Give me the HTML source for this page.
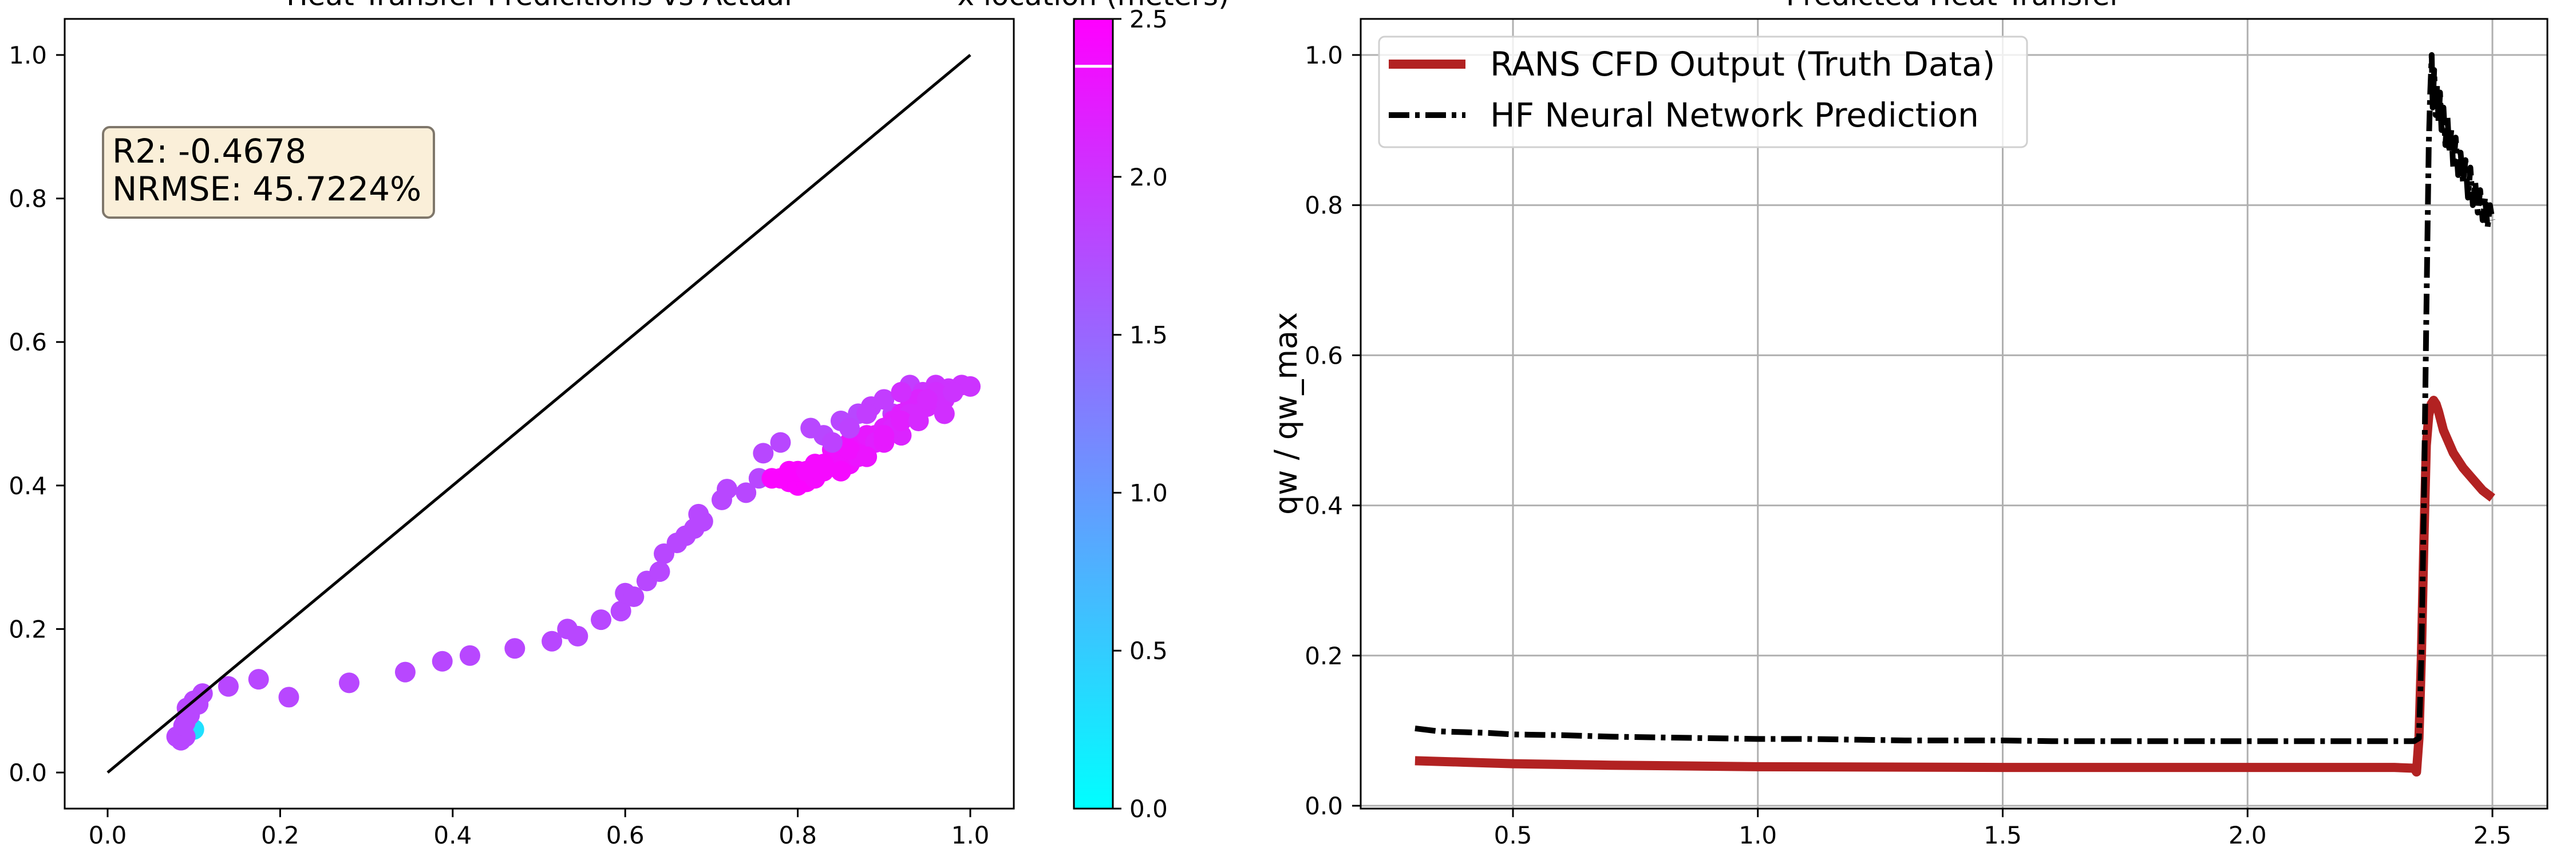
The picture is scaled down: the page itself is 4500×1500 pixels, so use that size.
<!DOCTYPE html>
<html><head><meta charset="utf-8"><style>
html,body{margin:0;padding:0;background:#fff}
svg{display:block;font-family:"DejaVu Sans","Liberation Sans",sans-serif}
</style></head><body>
<svg id="fig" width="4500" height="1500" viewBox="0 0 4500 1500" xmlns="http://www.w3.org/2000/svg">
<rect width="4500" height="1500" fill="#fff"/>
<g id="left"></g>
<g id="cbar"></g>
<g id="right"></g>
</svg>
<script>
// ---- scatter data ----
const actual = [0.10,0.09,0.085,0.08,0.09,0.095,0.092,0.088,0.1,0.105,0.11,0.14,0.175,0.21,0.28,0.345,0.388,0.42,0.472,0.515,0.533,0.545,0.572,0.595,0.6,0.61,0.625,0.64,0.645,0.66,0.67,0.68,0.685,0.69,0.712,0.718,0.74,0.755,0.76,0.78,0.815,0.83,0.85,0.87,0.885,0.9,0.91,0.93,0.945,0.96,0.975,0.99,1.0,0.78,0.79,0.80,0.81,0.82,0.83,0.84,0.85,0.86,0.87,0.88,0.89,0.90,0.91,0.92,0.93,0.94,0.95,0.96,0.80,0.82,0.84,0.86,0.88,0.90,0.92,0.94,0.96,0.97,0.85,0.87,0.89,0.91,0.93,0.77,0.79,0.81,0.83,0.86,0.88,0.90,0.92,0.94,0.95,0.97,0.98,0.84,0.86,0.88,0.90,0.92];
const predicted = [0.06,0.05,0.045,0.05,0.07,0.08,0.09,0.065,0.1,0.095,0.11,0.12,0.13,0.105,0.125,0.14,0.155,0.163,0.173,0.183,0.2,0.19,0.213,0.225,0.25,0.245,0.267,0.28,0.305,0.32,0.33,0.34,0.36,0.35,0.38,0.395,0.39,0.41,0.445,0.46,0.48,0.47,0.49,0.5,0.51,0.52,0.50,0.54,0.53,0.54,0.535,0.54,0.538,0.41,0.405,0.40,0.405,0.41,0.42,0.43,0.44,0.43,0.45,0.46,0.47,0.48,0.49,0.50,0.51,0.52,0.51,0.52,0.42,0.43,0.45,0.46,0.47,0.48,0.47,0.50,0.53,0.52,0.42,0.44,0.46,0.48,0.50,0.41,0.42,0.42,0.43,0.45,0.44,0.46,0.49,0.49,0.52,0.50,0.53,0.46,0.48,0.50,0.47,0.53];
const xloc = [0.3,1.8,1.8,1.8,1.8,1.8,1.8,1.8,1.8,1.8,1.8,1.8,1.8,1.8,1.8,1.8,1.8,1.8,1.8,1.8,1.8,1.8,1.8,1.8,1.8,1.8,1.8,1.8,1.8,1.8,1.8,1.8,1.8,1.8,1.8,1.8,1.8,1.8,1.8,1.8,1.8,1.8,1.8,1.8,1.9,1.9,1.9,1.9,2.0,2.0,2.0,2.0,2.0,2.45,2.45,2.45,2.45,2.4,2.4,2.4,2.35,2.35,2.3,2.3,2.25,2.25,2.2,2.2,2.15,2.15,2.1,2.1,2.45,2.4,2.35,2.3,2.25,2.2,2.15,2.1,2.05,2.05,2.4,2.3,2.2,2.15,2.1,2.45,2.45,2.4,2.4,2.35,2.3,2.25,2.2,2.1,2.1,2.05,2.0,1.85,1.85,1.9,2.25,2.05];
const xTicksL = [0.0,0.2,0.4,0.6,0.8,1.0];
const yTicksL = [0.0,0.2,0.4,0.6,0.8,1.0];
const cbTicks = [0.0,0.5,1.0,1.5,2.0,2.5];
// ---- line data ----
const ransX = [0.3,0.4,0.5,0.7,1.0,1.5,2.0,2.3,2.34,2.345,2.35,2.355,2.36,2.365,2.37,2.375,2.38,2.385,2.39,2.40,2.42,2.44,2.46,2.48,2.50];
const ransY = [0.060,0.058,0.056,0.054,0.052,0.051,0.051,0.051,0.050,0.045,0.09,0.2,0.35,0.48,0.52,0.535,0.54,0.535,0.525,0.50,0.47,0.45,0.435,0.42,0.41];
const nnX = [0.3,0.35,0.4,0.45,0.5,0.6,0.7,0.8,0.9,1.0,1.1,1.2,1.3,1.4,1.5,1.6,1.7,1.8,1.9,2.0,2.1,2.2,2.3,2.34,2.35,2.355,2.36,2.365,2.37,2.373,2.376,2.378,2.381,2.384,2.387,2.39,2.393,2.396,2.40,2.404,2.408,2.412,2.416,2.42,2.425,2.43,2.435,2.44,2.445,2.45,2.455,2.46,2.465,2.47,2.475,2.48,2.485,2.49,2.495,2.50];
const nnY = [0.103,0.099,0.098,0.097,0.095,0.094,0.092,0.091,0.090,0.089,0.089,0.088,0.087,0.087,0.087,0.086,0.086,0.086,0.086,0.086,0.086,0.086,0.086,0.086,0.09,0.2,0.4,0.65,0.88,0.95,1.0,0.93,0.98,0.92,0.96,0.91,0.95,0.90,0.93,0.88,0.92,0.87,0.90,0.85,0.89,0.84,0.87,0.83,0.86,0.81,0.85,0.80,0.83,0.79,0.82,0.78,0.81,0.77,0.80,0.78];
const xTicksR = [0.5,1.0,1.5,2.0,2.5];
const yTicksR = [0.0,0.2,0.4,0.6,0.8,1.0];

const NS='http://www.w3.org/2000/svg';
function mk(parent,tag,attrs,text){const e=document.createElementNS(NS,tag);for(const k in attrs)e.setAttribute(k,attrs[k]);if(text!==undefined)e.textContent=text;parent.appendChild(e);return e;}
function cool(v){const t=Math.max(0,Math.min(1,v/2.5));return `rgb(${Math.round(255*t)},${Math.round(255*(1-t))},255)`;}

// ---- left scatter ----
const L=document.getElementById('left');
const lx=v=>188+v*1507, ly=v=>1349-v*1253;
for(let i=0;i<actual.length;i++){
  const c=mk(L,'circle',{cx:lx(actual[i]),cy:ly(predicted[i]),r:18,fill:cool(xloc[i])});
  
  
}
const idl=mk(L,'line',{x1:lx(0),y1:ly(0),x2:lx(1),y2:ly(1),stroke:'#000','stroke-width':5});

const lf=mk(L,'rect',{x:113,y:33,width:1658,height:1379,fill:'none',stroke:'#000','stroke-width':3});

xTicksL.forEach(t=>{mk(L,'line',{x1:lx(t),x2:lx(t),y1:1412,y2:1427,stroke:'#000','stroke-width':3});
  const e=mk(L,'text',{x:lx(t),y:1473,'font-size':42,'text-anchor':'middle'},t.toFixed(1));
  });
yTicksL.forEach(t=>{mk(L,'line',{x1:98,x2:113,y1:ly(t),y2:ly(t),stroke:'#000','stroke-width':3});
  const e=mk(L,'text',{x:82,y:ly(t)+15,'font-size':42,'text-anchor':'end'},t.toFixed(1));
  });
const lt=mk(L,'text',{x:942,y:9,'font-size':50,'text-anchor':'middle'},'Heat Transfer Predicitions vs Actual');

const sb=mk(L,'rect',{x:180,y:222,width:578,height:158,rx:12,fill:'#faefd9',stroke:'#7f776b','stroke-width':4});

const s1=mk(L,'text',{x:196,y:284,'font-size':58},'R2: -0.4678');

const s2=mk(L,'text',{x:196,y:350,'font-size':58},'NRMSE: 45.7224%');


// ---- colorbar ----
const C=document.getElementById('cbar');
const defs=mk(C,'defs',{});const g=mk(defs,'linearGradient',{id:'cg',x1:0,y1:1,x2:0,y2:0});
mk(g,'stop',{offset:0,'stop-color':'#00ffff'});mk(g,'stop',{offset:1,'stop-color':'#ff00ff'});
const cy=v=>1412-v/2.5*1379;
mk(C,'rect',{x:1876,y:33,width:68,height:1379,fill:'url(#cg)',stroke:'#000','stroke-width':3});
mk(C,'line',{x1:1878,x2:1942,y1:cy(2.35),y2:cy(2.35),stroke:'#fff','stroke-width':5});
cbTicks.forEach(t=>{mk(C,'line',{x1:1944,x2:1959,y1:cy(t),y2:cy(t),stroke:'#000','stroke-width':3});
  const e=mk(C,'text',{x:1973,y:cy(t)+15,'font-size':42},t.toFixed(1));
  });
const ct=mk(C,'text',{x:1910,y:9,'font-size':50,'text-anchor':'middle'},'x location (meters)');


// ---- right line chart ----
const R=document.getElementById('right');
const rx=v=>2643+(v-0.5)*855.5, ry=v=>1407-v*1311;
xTicksR.forEach(t=>{mk(R,'line',{x1:rx(t),x2:rx(t),y1:33,y2:1412,stroke:'#b0b0b0','stroke-width':3});});
yTicksR.forEach(t=>{mk(R,'line',{x1:2377,x2:4450,y1:ry(t),y2:ry(t),stroke:'#b0b0b0','stroke-width':3});});
const rp=mk(R,'polyline',{points:ransX.map((x,i)=>rx(x)+','+ry(ransY[i])).join(' '),fill:'none',stroke:'#b22222','stroke-width':16,'stroke-linejoin':'round'});

const np=mk(R,'polyline',{points:nnX.map((x,i)=>rx(x)+','+ry(nnY[i])).join(' '),fill:'none',stroke:'#000','stroke-width':10,'stroke-dasharray':'36 10 8 10','stroke-linejoin':'round'});

const rf=mk(R,'rect',{x:2377,y:33,width:2073,height:1379,fill:'none',stroke:'#000','stroke-width':3});

xTicksR.forEach(t=>{mk(R,'line',{x1:rx(t),x2:rx(t),y1:1412,y2:1427,stroke:'#000','stroke-width':3});
  const e=mk(R,'text',{x:rx(t),y:1473,'font-size':42,'text-anchor':'middle'},t.toFixed(1));
  });
yTicksR.forEach(t=>{mk(R,'line',{x1:2362,x2:2377,y1:ry(t),y2:ry(t),stroke:'#000','stroke-width':3});
  const e=mk(R,'text',{x:2346,y:ry(t)+15,'font-size':42,'text-anchor':'end'},t.toFixed(1));
  });
const yl=mk(R,'text',{x:2265,y:722,'font-size':54,'text-anchor':'middle',transform:'rotate(-90 2265 722)'},'qw / qw_max');

const rt=mk(R,'text',{x:3413,y:9,'font-size':50,'text-anchor':'middle'},'Predicted Heat Transfer');

const lg=mk(R,'rect',{x:2409,y:64,width:1132,height:193,rx:10,fill:'#fff','fill-opacity':0.8,stroke:'#d0d0d0','stroke-width':3});

mk(R,'line',{x1:2426,x2:2560,y1:112,y2:112,stroke:'#b22222','stroke-width':16});
const l1=mk(R,'text',{x:2603,y:132,'font-size':58},'RANS CFD Output (Truth Data)');

mk(R,'line',{x1:2426,x2:2560,y1:201,y2:201,stroke:'#000','stroke-width':10,'stroke-dasharray':'36 10 8 10'});
const l2=mk(R,'text',{x:2603,y:221,'font-size':58},'HF Neural Network Prediction');

</script>
</body></html>
